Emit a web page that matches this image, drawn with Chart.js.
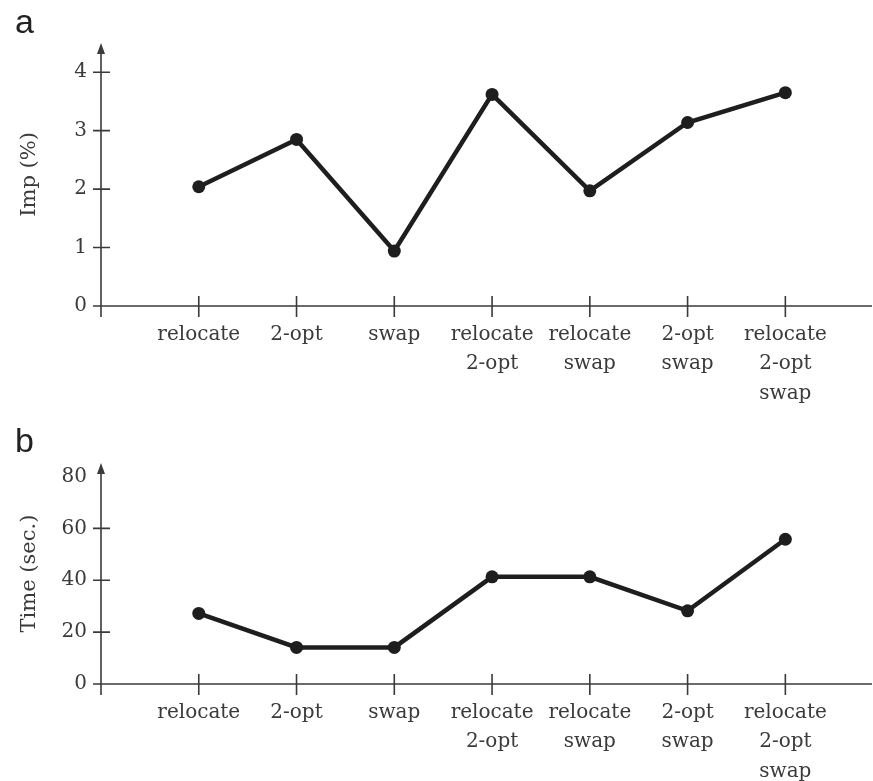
<!DOCTYPE html>
<html>
<head>
<meta charset="utf-8">
<script src="https://cdn.jsdelivr.net/npm/chart.js@4"></script>
<style>
  html, body { margin: 0; padding: 0; background: #fff; }
  #wrap { position: relative; width: 873px; height: 781px; }
  canvas { position: absolute; left: 0; }
</style>
</head>
<body>
<div id="wrap">
  <canvas id="chartA" width="873" height="410" style="top:0"></canvas>
  <canvas id="chartB" width="873" height="371" style="top:410px"></canvas>
</div>
<script>
// data
const categories = [
  ['relocate'], ['2-opt'], ['swap'],
  ['relocate', '2-opt'], ['relocate', 'swap'], ['2-opt', 'swap'],
  ['relocate', '2-opt', 'swap']
];
const impValues = [2.04, 2.85, 0.94, 3.62, 1.97, 3.14, 3.65];
const timeValues = [27.2, 14.1, 14.1, 41.3, 41.3, 28.2, 55.8];
const impTicks = [0, 1, 2, 3, 4];
const timeTicks = [0, 20, 40, 60, 80];

const INK = '#1e1e1e';
const AXIS = '#3a3a3a';
const serif = { family: '"DejaVu Serif", serif', size: 20 };

// hand-drawn axes: arrow on y, ticks crossing the axis lines, panel letter
const axisArrows = {
  id: 'axisArrows',
  beforeDatasetsDraw(chart, args, opts) {
    const { ctx, chartArea: { left, top, bottom }, scales: { x, y } } = chart;
    ctx.save();
    ctx.strokeStyle = AXIS;
    ctx.lineWidth = 1.6;
    ctx.beginPath();
    ctx.moveTo(left, bottom + 11);
    ctx.lineTo(left, top + 6);
    // x axis runs on to the edge of the figure
    ctx.moveTo(left, bottom);
    ctx.lineTo(chart.width - 1, bottom);
    y.ticks.forEach(t => {
      if (opts.skip && opts.skip.includes(t.value)) return;
      const py = y.getPixelForValue(t.value);
      ctx.moveTo(left - 8, py);
      ctx.lineTo(left + 9, py);
    });
    x.ticks.forEach(t => {
      const px = x.getPixelForValue(t.value);
      ctx.moveTo(px, bottom - 10);
      ctx.lineTo(px, bottom + 11);
    });
    ctx.stroke();

    ctx.fillStyle = AXIS;
    ctx.beginPath();
    ctx.moveTo(left, top);
    ctx.lineTo(left - 4, top + 11);
    ctx.lineTo(left + 4, top + 11);
    ctx.closePath();
    ctx.fill();

    ctx.font = '34px "Liberation Sans", Arial, sans-serif';
    ctx.fillStyle = '#222';
    ctx.textBaseline = 'alphabetic';
    ctx.fillText(opts.letter, 15, opts.letterY);
    ctx.restore();
  }
};

function makeChart(canvas, values, yTicks, yMax, yTitle, padTop, xHeight, letter, letterY, skip) {
  return new Chart(canvas, {
    type: 'line',
    data: {
      datasets: [{
        data: values.map((v, i) => ({ x: i, y: v })),
        borderColor: INK,
        borderWidth: 4.5,
        pointRadius: 6.5,
        pointHoverRadius: 6.5,
        pointBackgroundColor: INK,
        pointBorderWidth: 0,
        tension: 0,
        clip: false
      }]
    },
    options: {
      responsive: false,
      animation: false,
      layout: { padding: { top: padTop, right: 0, left: 0, bottom: 0 } },
      plugins: {
        legend: { display: false },
        tooltip: { enabled: false },
        axisArrows: { letter: letter, letterY: letterY, skip: skip }
      },
      scales: {
        x: {
          type: 'linear',
          min: -1,
          max: 6.83,
          afterBuildTicks: scale => { scale.ticks = categories.map((c, i) => ({ value: i })); },
          afterFit: scale => { scale.height = xHeight; },
          grid: { display: false, drawTicks: false },
          border: { display: false },
          ticks: {
            autoSkip: false,
            maxRotation: 0,
            padding: 14,
            color: AXIS,
            font: { ...serif, lineHeight: 1.475 },
            callback: v => categories[v]
          }
        },
        y: {
          min: 0,
          max: yMax,
          afterBuildTicks: scale => { scale.ticks = yTicks.map(v => ({ value: v })); },
          afterFit: scale => { scale.width = 101; },
          grid: { display: false, drawTicks: false },
          border: { display: false },
          ticks: { padding: 14, color: AXIS, font: serif, callback: v => String(v) },
          title: {
            display: true,
            text: yTitle,
            color: AXIS,
            font: { ...serif, size: 21, lineHeight: 1.2 },
            padding: { top: 17, bottom: 0 }
          }
        }
      }
    },
    plugins: [axisArrows]
  });
}

makeChart(document.getElementById('chartA'), impValues, impTicks, 4.5, 'Imp (%)', 43, 104, 'a', 33, []);
makeChart(document.getElementById('chartB'), timeValues, timeTicks, 85.2, 'Time (sec.)', 53, 97, 'b', 42, [80]);
</script>
</body>
</html>
